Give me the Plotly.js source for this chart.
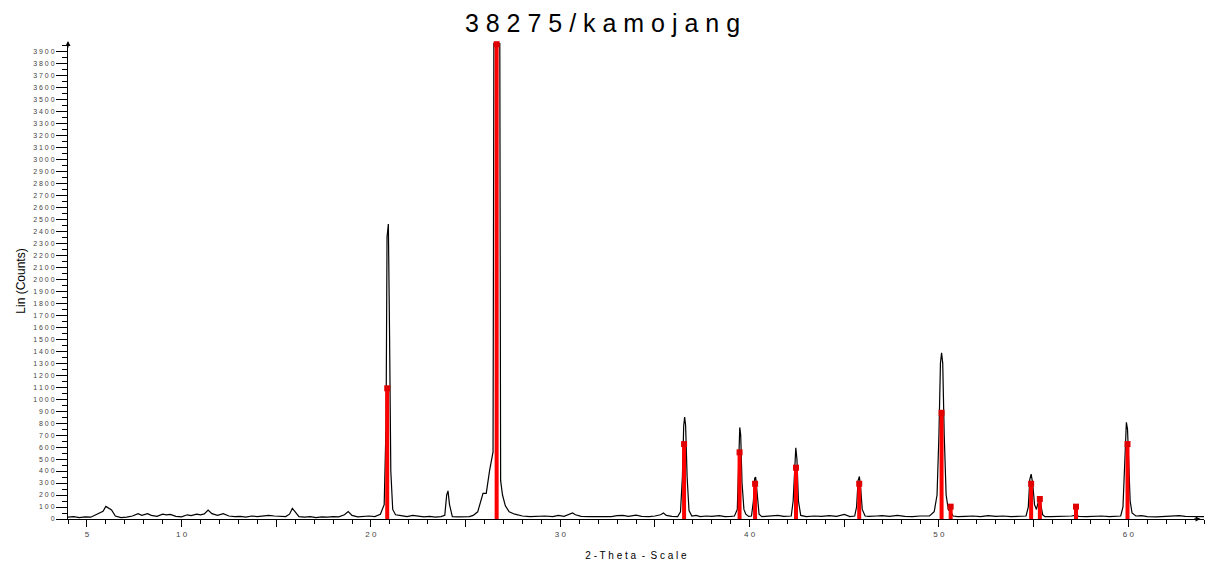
<!DOCTYPE html>
<html>
<head>
<meta charset="utf-8">
<script src="https://cdn.plot.ly/plotly-3.0.1.min.js"></script>
<style>html,body{margin:0;padding:0;background:#fff;}#chart{width:1205px;height:563px;}</style>
</head>
<body>
<div id="chart"></div>
<script>
// Measured diffractogram (2-theta, counts)
const twoTheta = [4.0,4.3,4.6,4.9,5.2,5.5,5.7,5.85,6.0,6.15,6.3,6.5,6.8,7.1,7.4,7.7,7.9,8.2,8.4,8.7,9.0,9.2,9.4,9.7,10.0,10.3,10.5,10.8,11.0,11.2,11.4,11.6,11.9,12.2,12.5,12.8,13.1,13.4,13.7,14.0,14.3,14.6,14.9,15.2,15.5,15.7,15.85,16.0,16.2,16.5,16.8,17.1,17.4,17.7,18.0,18.3,18.6,18.8,19.0,19.3,19.6,19.9,20.2,20.5,20.7,20.8,20.85,20.92,20.98,21.05,21.15,21.3,21.6,21.9,22.2,22.5,22.8,23.1,23.4,23.7,23.9,24.0,24.07,24.15,24.3,24.6,24.9,25.2,25.4,25.64,25.92,26.09,26.27,26.36,26.45,26.5,26.6,26.7,26.8,26.85,26.95,27.1,27.3,27.6,28.0,28.4,28.8,29.2,29.6,29.9,30.2,30.5,30.65,30.8,31.1,31.5,31.9,32.3,32.7,33.0,33.3,33.6,34.0,34.3,34.7,35.0,35.3,35.45,35.6,35.9,36.2,36.35,36.45,36.52,36.57,36.62,36.7,36.8,36.95,37.17,37.4,37.7,38.0,38.4,38.7,39.0,39.2,39.35,39.42,39.48,39.53,39.6,39.7,39.8,39.95,40.1,40.2,40.27,40.32,40.4,40.5,40.65,40.8,41.1,41.5,41.8,42.0,42.2,42.3,42.38,42.44,42.5,42.58,42.7,42.85,43.0,43.4,43.8,44.2,44.6,45.0,45.3,45.55,45.65,45.73,45.8,45.87,45.95,46.1,46.3,46.7,47.0,47.4,47.8,48.2,48.6,49.0,49.3,49.5,49.75,49.9,50.0,50.08,50.14,50.2,50.28,50.38,50.5,50.6,50.75,51.0,51.4,51.8,52.2,52.6,53.0,53.4,53.8,54.2,54.6,54.72,54.8,54.87,54.95,55.05,55.15,55.28,55.38,55.48,55.6,55.9,56.3,56.7,57.0,57.2,57.4,57.8,58.2,58.6,59.0,59.3,59.6,59.72,59.82,59.9,59.96,60.02,60.1,60.2,60.4,60.7,61.0,61.5,62.0,62.4,62.7,63.0,63.5,64.0];
const counts = [15,20,12,18,15,40,55,65,105,90,75,25,12,15,25,45,30,45,30,22,40,35,38,22,18,35,28,40,35,42,75,45,30,45,25,20,22,15,25,20,22,30,25,22,20,40,88,60,20,15,20,12,18,15,20,18,35,62,30,18,22,25,20,40,120,800,2350,2460,1600,400,80,35,28,20,30,22,18,22,15,20,30,200,235,120,20,18,22,20,30,60,214,214,408,478,560,4500,4500,4500,4500,320,200,110,60,40,25,20,22,25,20,30,22,40,50,35,22,20,22,18,20,28,30,22,32,22,20,25,35,50,30,22,20,60,350,780,850,780,350,70,25,30,20,25,22,28,20,22,25,80,450,764,700,300,80,40,22,25,150,340,350,200,40,20,22,25,30,22,25,25,150,500,594,500,150,30,22,20,25,22,28,22,38,20,25,100,320,355,250,80,25,22,25,28,22,30,22,20,25,22,25,60,200,700,1300,1386,1300,700,200,75,65,25,20,22,25,20,28,22,25,20,22,25,100,330,375,300,120,80,164,120,35,20,20,22,18,25,30,22,20,22,25,20,22,25,100,500,806,750,450,150,50,25,28,20,18,22,25,28,22,18,20];

// Reference pattern sticks (2-theta, counts)
const refTheta = [20.86,26.64,36.54,39.47,40.29,42.45,45.79,50.14,50.62,54.87,55.33,57.24,59.96];
const refCounts = [1090,3960,625,556,294,428,294,886,103,294,167,103,625];

// Tick labels
const xTickVals = [5,10,15,20,25,30,35,40,45,50,55,60];
const xTickText = ['5','1 0','','2 0','','3 0','','4 0','','5 0','','6 0'];
const yTickVals = [0,100,200,300,400,500,600,700,800,900,1000,1100,1200,1300,1400,1500,1600,1700,1800,1900,2000,2100,2200,2300,2400,2500,2600,2700,2800,2900,3000,3100,3200,3300,3400,3500,3600,3700,3800,3900];
const yTickText = ['0','1 0 0','2 0 0','3 0 0','4 0 0','5 0 0','6 0 0','7 0 0','8 0 0','9 0 0','1 0 0 0','1 1 0 0','1 2 0 0','1 3 0 0','1 4 0 0','1 5 0 0','1 6 0 0','1 7 0 0','1 8 0 0','1 9 0 0','2 0 0 0','2 1 0 0','2 2 0 0','2 3 0 0','2 4 0 0','2 5 0 0','2 6 0 0','2 7 0 0','2 8 0 0','2 9 0 0','3 0 0 0','3 1 0 0','3 2 0 0','3 3 0 0','3 4 0 0','3 5 0 0','3 6 0 0','3 7 0 0','3 8 0 0','3 9 0 0'];

const stickX = [], stickY = [];
refTheta.forEach((t, i) => { stickX.push(t, t, null); stickY.push(0, refCounts[i], null); });

const traces = [
  {x: twoTheta, y: counts, type: 'scatter', mode: 'lines',
   line: {color: '#000', width: 1.2}, hoverinfo: 'skip', showlegend: false},
  {x: stickX, y: stickY, type: 'scatter', mode: 'lines',
   line: {color: '#ff0000', width: 4}, hoverinfo: 'skip', showlegend: false},
  {x: refTheta, y: refCounts, type: 'scatter', mode: 'markers',
   marker: {symbol: 'square', size: 6, color: '#e00000'}, cliponaxis: false,
   hoverinfo: 'skip', showlegend: false}
];

const layout = {
  width: 1205, height: 563,
  margin: {l: 68, r: 1, t: 43, b: 44},
  paper_bgcolor: '#fff', plot_bgcolor: '#fff',
  font: {family: 'Liberation Sans, Arial, sans-serif', color: '#000'},
  title: {text: '3 8 2 7 5 / k a m o j a n g', font: {size: 25, color: '#000'},
          x: 0.5, xanchor: 'center', y: 0.958, yanchor: 'middle'},
  xaxis: {
    range: [4, 64], showgrid: false, zeroline: false,
    showline: true, linecolor: '#000', linewidth: 1,
    ticks: 'outside', ticklen: 7, tickwidth: 1, tickcolor: '#000',
    tickmode: 'array', tickvals: xTickVals, ticktext: xTickText,
    tickfont: {size: 8, color: '#444'},
    minor: {ticks: 'outside', ticklen: 4, tickcolor: '#000', tickmode: 'linear', tick0: 0, dtick: 1, showgrid: false},
    title: {text: '2 - T h e t a  -  S c a l e', font: {size: 10, color: '#000'}, standoff: 14}
  },
  yaxis: {
    range: [0, 3970], showgrid: false, zeroline: false,
    showline: true, linecolor: '#000', linewidth: 1,
    ticks: 'outside', ticklen: 11, tickwidth: 1, tickcolor: '#000',
    tickmode: 'array', tickvals: yTickVals, ticktext: yTickText,
    tickfont: {size: 7, color: '#444'},
    minor: {ticks: 'outside', ticklen: 5, tickcolor: '#000', tickmode: 'linear', tick0: 0, dtick: 50, showgrid: false},
    title: {text: 'Lin (Counts)', font: {size: 12, color: '#000'}, standoff: 4}
  },
  annotations: [
    {xref: 'paper', yref: 'paper', x: 0, y: 1.004, ax: 0, ay: 8, showarrow: true,
     arrowhead: 2, arrowsize: 1, arrowwidth: 1, arrowcolor: '#000', text: ''},
    {xref: 'paper', yref: 'paper', x: 0.997, y: 0, ax: -8, ay: 0, showarrow: true,
     arrowhead: 2, arrowsize: 1, arrowwidth: 1, arrowcolor: '#000', text: ''}
  ]
};

Plotly.newPlot('chart', traces, layout, {displayModeBar: false, staticPlot: true});
</script>
</body>
</html>
